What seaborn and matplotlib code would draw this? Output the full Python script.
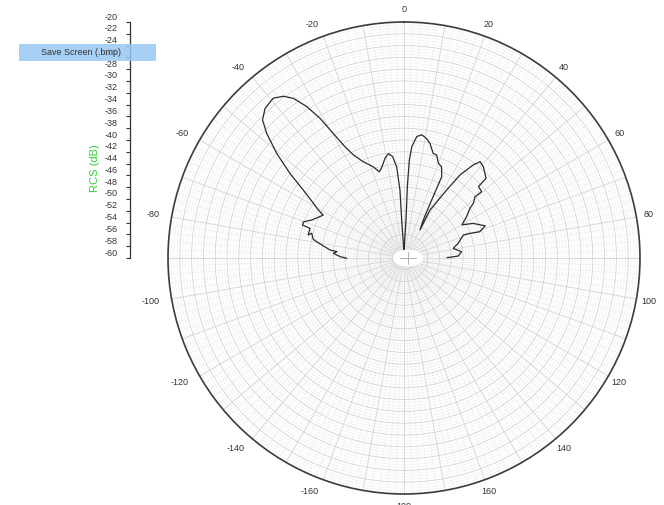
import numpy as np
import matplotlib
matplotlib.use("Agg")
import matplotlib.pyplot as plt
import seaborn as sns
from matplotlib.patches import Ellipse, Rectangle
from matplotlib.transforms import ScaledTranslation

# RCS pattern (angle in degrees, RCS in dB)
angle_deg = [-90.3, -88.8, -86.2, -84.6, -83.8, -81.0, -78.4, -75.0, -76.5, -72.5,
             -72.0, -70.2, -67.6, -63.8, -62.0, -60.8, -58.9, -56.0, -53.4, -50.6,
             -47.8, -45.7, -42.9, -39.3, -36.7, -34.7, -32.7, -31.0, -29.6, -28.2,
             -26.2, -22.9, -18.6, -16.0, -13.8, -10.8, -8.5, -6.4, -4.6, -3.4,
             -3.5, -2.5, 0.0, 2.0, 3.0, 2.7, 3.1, 4.0, 6.0, 8.2,
             10.7, 12.8, 15.6, 17.6, 19.9, 22.4, 24.9, 25.5, 26.9, 29.7,
             28.4, 32.1, 34.0, 36.7, 38.3, 41.0, 45.8, 46.2, 49.5, 49.2,
             51.7, 53.0, 56.6, 60.2, 63.4, 68.4, 70.9, 69.5, 68.8, 74.9,
             78.9, 83.8, 87.9, 89.6]
rcs_db = [-50.3, -49.2, -48.0, -48.6, -47.4, -45.9, -44.3, -43.8, -43.3, -43.3,
          -41.9, -41.9, -43.1, -44.1, -44.5, -43.4, -42.1, -39.4, -35.9, -32.1,
          -28.6, -26.5, -25.4, -25.0, -25.8, -27.1, -29.5, -32.4, -35.7, -38.3,
          -40.5, -42.3, -43.7, -44.8, -44.2, -42.8, -42.1, -42.7, -44.5, -48.5,
          -53.5, -57.5, -59.5, -57.5, -53.6, -47.9, -43.4, -41.1, -39.3, -38.9,
          -39.4, -40.1, -41.6, -41.7, -42.9, -43.3, -44.8, -49.1, -52.8, -54.5,
          -50.8, -46.4, -43.0, -40.3, -39.2, -39.5, -40.6, -42.5, -42.7, -44.1,
          -45.0, -46.0, -47.3, -48.7, -46.9, -45.2, -46.4, -48.1, -49.2, -50.5,
          -51.5, -50.2, -50.8, -52.7]

theta_ticks = list(range(0, 360, 10))
theta_labels = [str(d if d <= 180 else d - 360) if d % 20 == 0 else "" for d in theta_ticks]
r_min, r_max = -60, -20
scale_ticks = list(range(-60, -19, 2))

sns.set_style("white")
plt.rcParams["font.family"] = ["Liberation Sans", "DejaVu Sans"]

fig = plt.figure(figsize=(6.64, 5.05), dpi=100)
W, H = 664, 505
cx, cy, R = 404, 258, 236

ax = fig.add_axes([(cx - R) / W, (H - cy - R) / H, 2 * R / W, 2 * R / H], projection="polar")
ax.set_theta_zero_location("N")
ax.set_theta_direction(-1)

sns.lineplot(x=np.deg2rad(angle_deg), y=rcs_db, ax=ax, sort=False, estimator=None,
             color="#2a2a2a", linewidth=0.9, zorder=4)

ax.set_xlim(0, 2 * np.pi)
ax.set_ylim(r_min, r_max)
ax.set_xticks(np.deg2rad(theta_ticks))
ax.set_xticklabels(theta_labels)
ax.set_xticks(np.deg2rad(np.arange(0, 360, 2)), minor=True)
ax.set_yticks(np.arange(-58, -19, 2))
ax.set_yticks(np.arange(-59.5, -20, 0.5), minor=True)
ax.set_yticklabels([])
ax.tick_params(which="both", length=0)
ax.tick_params(axis="x", pad=2, labelsize=6.5, colors="#333333")
# negative angle labels hang to the left of their anchor in the original
for lbl in ax.get_xticklabels():
    if lbl.get_text().startswith("-"):
        lbl.set_horizontalalignment("right")
ax.grid(which="major", color="#d2d2d2", linewidth=0.6, linestyle="-")
ax.grid(which="minor", color="#e2e2e2", linewidth=0.45, linestyle=(0, (1.5, 1.5)))
ax.spines["polar"].set_color("#3c3c3c")
ax.spines["polar"].set_linewidth(1.2)
ax.set_xlabel("")
ax.set_ylabel("")

# white blob and cross at the centre
ax.add_patch(Ellipse((0.5 + 4 / (2 * R), 0.5), 30 / (2 * R), 17 / (2 * R),
                     transform=ax.transAxes, facecolor="white", edgecolor="none", zorder=5))
ax.plot([0.5 + (4 - 8) / (2 * R), 0.5 + (4 + 8) / (2 * R)], [0.5, 0.5],
        transform=ax.transAxes, color="#b0b0b0", lw=0.7, zorder=6)
ax.plot([0.5 + 4 / (2 * R)] * 2, [0.5 - 6 / (2 * R), 0.5 + 6 / (2 * R)],
        transform=ax.transAxes, color="#b0b0b0", lw=0.7, zorder=6)

# dB scale on the left
ax2 = fig.add_axes([130 / W, (H - cy) / H, 0.0005, R / H])
ax2.patch.set_visible(False)
for s in ["top", "right", "bottom"]:
    ax2.spines[s].set_visible(False)
ax2.spines["left"].set_color("#333333")
ax2.spines["left"].set_linewidth(0.9)
ax2.set_ylim(r_min, r_max)
ax2.set_yticks(scale_ticks)
ax2.set_yticklabels([str(v) for v in scale_ticks])
ax2.set_xticks([])
ax2.tick_params(axis="y", direction="out", length=3, width=0.8, pad=6,
                labelsize=6.5, colors="#333333", left=True)
for lbl in ax2.get_yticklabels():
    lbl.set_transform(lbl.get_transform() + ScaledTranslation(0, 6 / 100, fig.dpi_scale_trans))

fig.text(95 / W, 1 - 168 / H, "RCS (dB)", rotation=90, color="#2fcf2f",
         fontsize=8, ha="center", va="center")

fig.patches.append(Rectangle((19 / W, 1 - 61 / H), 137 / W, 17 / H, transform=fig.transFigure,
                             facecolor="#99c8f4", edgecolor="none", alpha=0.85, zorder=5))
fig.text(81 / W, 1 - 52.5 / H, "Save Screen (.bmp)", color="#333333", fontsize=6.5,
         ha="center", va="center", zorder=6)

fig.savefig("out.png", dpi=100, facecolor="white")
